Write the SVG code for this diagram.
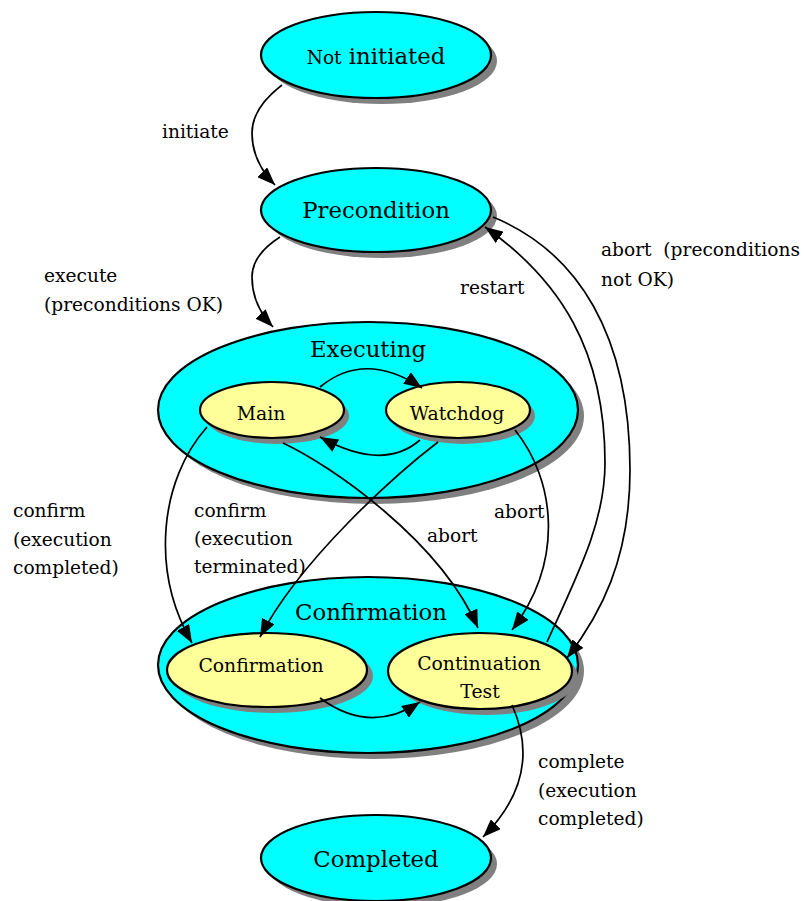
<svg xmlns="http://www.w3.org/2000/svg" width="804" height="901" viewBox="0 0 804 901">
<style>
.shadow{fill:#808080;stroke:none}
.state{fill:#00ffff;stroke:#000;stroke-width:2.2}
.sub{fill:#ffff99;stroke:#000;stroke-width:2.2}
.big{font-family:"DejaVu Serif","Liberation Serif",serif;font-size:22.8px;fill:#000;text-anchor:middle}
.mid{font-family:"DejaVu Serif","Liberation Serif",serif;font-size:18.8px;fill:#000;text-anchor:middle}
.lbl{font-family:"DejaVu Serif","Liberation Serif",serif;font-size:18.6px;fill:#000}
.edge{fill:none;stroke:#000;stroke-width:1.7;marker-end:url(#arr)}
</style>
<defs>
<marker id="arr" markerUnits="userSpaceOnUse" markerWidth="18" markerHeight="14" refX="18" refY="7" orient="auto">
<path d="M0,0 L18,7 L0,14 z" fill="#000"/>
</marker>
</defs>
<rect width="804" height="901" fill="#fff"/>

<g id="not-initiated">
<ellipse class="shadow" cx="382" cy="61" rx="115" ry="43"/>
<ellipse class="state" cx="376" cy="55" rx="115" ry="43"/>
<text class="big" x="376" y="64"><tspan font-size="18.5px">Not</tspan> initiated</text>
</g>

<g id="precondition">
<ellipse class="shadow" cx="382" cy="216" rx="115" ry="42"/>
<ellipse class="state" cx="376" cy="210" rx="115" ry="42"/>
<text class="big" x="376" y="218">Precondition</text>
</g>

<g id="executing">
<ellipse class="shadow" cx="374" cy="416" rx="210" ry="88"/>
<ellipse class="state" cx="368" cy="410" rx="210" ry="88"/>
<text class="big" x="368" y="357">Executing</text>
</g>

<g id="main">
<ellipse class="shadow" cx="277" cy="416" rx="72" ry="28"/>
<ellipse class="sub" cx="272" cy="410" rx="72" ry="28"/>
<text class="mid" x="261" y="420">Main</text>
</g>

<g id="watchdog">
<ellipse class="shadow" cx="463" cy="416" rx="72" ry="28"/>
<ellipse class="sub" cx="458" cy="410" rx="72" ry="28"/>
<text class="mid" x="457" y="420">Watchdog</text>
</g>

<g id="confirmation-state">
<ellipse class="shadow" cx="374" cy="671" rx="210" ry="88"/>
<ellipse class="state" cx="368" cy="665" rx="210" ry="88"/>
<text class="big" x="371" y="620" font-size="23.8px">Confirmation</text>
</g>

<g id="confirmation">
<ellipse class="shadow" cx="273" cy="676" rx="100" ry="37"/>
<ellipse class="sub" cx="267" cy="670" rx="100" ry="37"/>
<text class="mid" x="261" y="672">Confirmation</text>
</g>

<g id="continuation-test">
<ellipse class="shadow" cx="486" cy="677" rx="92" ry="38"/>
<ellipse class="sub" cx="480" cy="671" rx="92" ry="38"/>
<text class="mid" x="479" y="670">Continuation</text>
<text class="mid" x="480" y="698">Test</text>
</g>

<g id="completed">
<ellipse class="shadow" cx="382" cy="864" rx="115" ry="43"/>
<ellipse class="state" cx="376" cy="858" rx="115" ry="43"/>
<text class="big" x="376" y="867">Completed</text>
</g>

<g id="connectors">
<path class="edge" d="M282,85 Q252,108 252,133 Q252,162 275,185"/>
<path class="edge" d="M280,237 Q252,255 252,277 Q252,305 273,327"/>
<path class="edge" d="M493,217 C578,252 630,335 630,470 C630,560 600,615 567,658"/>
<path class="edge" d="M547,642 C580,570 605,520 605,463 C605,350 560,280 485,227"/>
<path class="edge" d="M320,387 Q365,350 422,388"/>
<path class="edge" d="M420,440 Q383,472 320,437"/>
<path class="edge" d="M207,427 C160,480 150,570 192,643"/>
<path class="edge" d="M438,442 C395,475 300,560 260,637"/>
<path class="edge" d="M283,443 C330,465 440,540 478,628"/>
<path class="edge" d="M515,430 C555,480 565,560 512,630"/>
<path class="edge" d="M320,698 Q370,735 420,702"/>
<path class="edge" d="M512,705 C530,745 530,790 483,837"/>
</g>

<g id="labels">
<text class="lbl" x="162" y="138">initiate</text>
<text class="lbl" x="44" y="282">execute</text>
<text class="lbl" x="44" y="311">(preconditions OK)</text>
<text class="lbl" x="601" y="256" xml:space="preserve">abort  (preconditions</text>
<text class="lbl" x="601" y="286">not OK)</text>
<text class="lbl" x="460" y="294">restart</text>
<text class="lbl" x="13" y="517">confirm</text>
<text class="lbl" x="13" y="546">(execution</text>
<text class="lbl" x="13" y="574">completed)</text>
<text class="lbl" x="194" y="517">confirm</text>
<text class="lbl" x="194" y="545">(execution</text>
<text class="lbl" x="194" y="573">terminated)</text>
<text class="lbl" x="427" y="542">abort</text>
<text class="lbl" x="494" y="518">abort</text>
<text class="lbl" x="538" y="768">complete</text>
<text class="lbl" x="538" y="797">(execution</text>
<text class="lbl" x="538" y="825">completed)</text>
</g>
</svg>
